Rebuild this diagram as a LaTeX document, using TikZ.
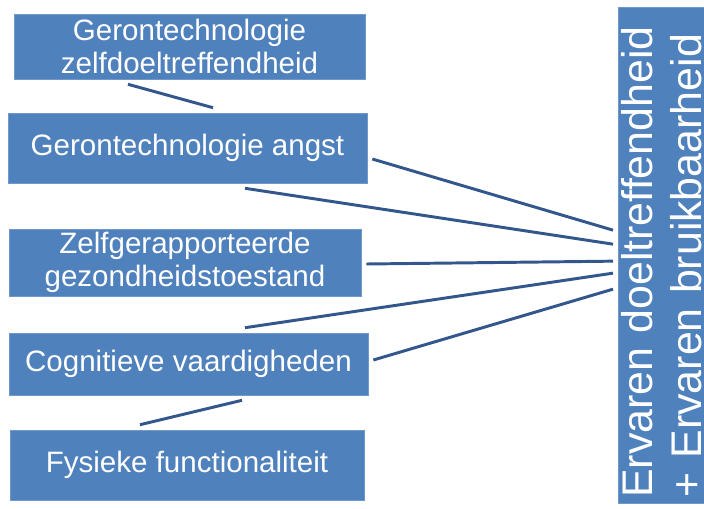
\documentclass[tikz,border=0pt]{standalone}
\usepackage{fontspec}
\setmainfont{Liberation Sans}
\definecolor{boxblue}{HTML}{4F81BD}
\definecolor{boxedge}{HTML}{6F98CC}
\definecolor{linkblue}{HTML}{33578C}
\begin{document}
\begin{tikzpicture}[x=0.025cm,y=-0.025cm,
  factor/.style={fill=boxblue, draw=boxedge, line width=0.4pt, text=white, align=center, inner sep=0pt,
    font=\fontsize{21}{23.5}\selectfont},
  outcome/.style={fill=boxblue, draw=boxedge, line width=0.4pt, text=white, align=left, rotate=90,
    inner xsep=0.15cm, inner ysep=0pt, minimum width=12.275cm, minimum height=2.15cm, text width=12.1cm,
    font=\fontsize{30.5}{34.8}\selectfont},
  link/.style={draw=linkblue, line width=2.1pt}]
\useasboundingbox (0,0) rectangle (704,508);

\node[factor, minimum width=8.775cm, minimum height=1.625cm] (zelfdoel) at (189.5,46.5) {Gerontechnologie\\ zelfdoeltreffendheid};
\node[factor, minimum width=8.975cm, minimum height=1.75cm] (angst) at (187.5,148) {Gerontechnologie angst};
\node[factor, minimum width=8.8cm, minimum height=1.675cm] (gezond) at (185,262.5) {Zelfgerapporteerde\\ gezondheidstoestand};
\node[factor, minimum width=8.975cm, minimum height=1.55cm] (cognitief) at (188.5,364) {Cognitieve vaardigheden};
\node[factor, minimum width=8.85cm, minimum height=1.75cm] (fysiek) at (187,465) {Fysieke functionaliteit};
\node[outcome, anchor=north west] (ervaren) at (618,504) {Ervaren doeltreffendheid\\ + Ervaren bruikbaarheid};

\draw[link] ([shift={(-61.5,5)}]zelfdoel.south) -- ([shift={(25.5,-5)}]angst.north);
\draw[link] ([shift={(5,11)}]angst.east) -- ([shift={(-5,-25.5)}]ervaren.north);
\draw[link] ([shift={(57.5,5)}]angst.south) -- ([shift={(-5,-11.5)}]ervaren.north);
\draw[link] ([shift={(5,1.5)}]gezond.east) -- ([shift={(-5,5.5)}]ervaren.north);
\draw[link] ([shift={(56.5,-5)}]cognitief.north) -- ([shift={(-5,17.5)}]ervaren.north);
\draw[link] ([shift={(5,-4)}]cognitief.east) -- ([shift={(-5,33.5)}]ervaren.north);
\draw[link] ([shift={(53.5,5)}]cognitief.south) -- ([shift={(-47,-5)}]fysiek.north);
\end{tikzpicture}
\end{document}
